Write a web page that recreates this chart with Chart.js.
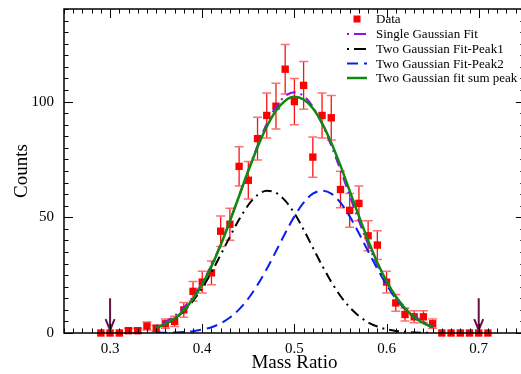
<!DOCTYPE html>
<html>
<head>
<meta charset="utf-8">
<script src="https://cdn.jsdelivr.net/npm/chart.js@4.4.1/dist/chart.umd.min.js"></script>
<style>
  html, body { margin: 0; padding: 0; background: #ffffff; overflow: hidden; }
  #wrap { width: 521px; height: 374px; overflow: hidden; }
</style>
</head>
<body>
<div id="wrap"><canvas id="massChart" width="530" height="374"></canvas></div>
<script>
// histogram bins (mass ratio) and measured counts
const massRatio = [0.29, 0.30, 0.31, 0.32, 0.33, 0.34, 0.35, 0.36, 0.37, 0.38, 0.39,
                   0.40, 0.41, 0.42, 0.43, 0.44, 0.45, 0.46, 0.47, 0.48, 0.49,
                   0.50, 0.51, 0.52, 0.53, 0.54, 0.55, 0.56, 0.57, 0.58, 0.59,
                   0.60, 0.61, 0.62, 0.63, 0.64, 0.65, 0.66, 0.67, 0.68, 0.69,
                   0.70, 0.71];
const counts = [0, 0, 0, 1, 1, 3, 2, 4, 5, 10, 18,
                22, 26, 44, 47, 72, 66, 84, 94, 98, 114,
                100, 107, 76, 94, 93, 62, 53, 56, 42, 38,
                22, 13, 8, 7, 7, 4, 0, 0, 0, 0,
                0, 0];
const countErrors = [0, 0, 0, 1, 1, 1.7, 1.4, 2, 2.2, 3.2, 4.2,
                     4.7, 5.1, 6.6, 6.9, 8.5, 8.1, 9.2, 9.7, 9.9, 10.7,
                     10, 10.3, 8.7, 9.7, 9.6, 7.9, 7.3, 7.5, 6.5, 6.2,
                     4.7, 3.6, 2.8, 2.6, 2.6, 2, 0, 0, 0, 0,
                     0, 0];

// fit curves
const fitX = [0.35, 0.36, 0.37, 0.38, 0.39, 0.40, 0.41, 0.42, 0.43, 0.44, 0.45,
              0.46, 0.47, 0.48, 0.49, 0.50, 0.51, 0.52, 0.53, 0.54, 0.55,
              0.56, 0.57, 0.58, 0.59, 0.60, 0.61, 0.62, 0.63, 0.64, 0.65];
const singleFit = [3.1, 4.9, 7.4, 11.0, 15.7, 21.8, 29.3, 38.3, 48.4, 59.3, 70.4,
                   81.0, 90.4, 97.7, 102.4, 104.0, 102.4, 97.7, 90.4, 81.0, 70.4,
                   59.3, 48.4, 38.3, 29.3, 21.8, 15.7, 11.0, 7.4, 4.9, 3.1];
const peak1Fit = [2.3, 3.8, 6.1, 9.4, 13.9, 19.5, 26.2, 33.8, 41.6, 49.0, 55.3,
                  59.6, 61.5, 60.6, 57.2, 51.7, 44.7, 36.9, 29.2, 22.1, 16.0,
                  11.1, 7.3, 4.6, 2.8, 1.6, 0.9, 0.5, 0.2, 0.1, 0.05];
const peak2Fit = [0.05, 0.1, 0.2, 0.4, 0.8, 1.5, 2.5, 4.2, 6.7, 10.2, 14.9,
                  20.8, 27.7, 35.3, 43.1, 50.4, 56.3, 60.2, 61.5, 60.2, 56.3,
                  50.4, 43.1, 35.3, 27.7, 20.8, 14.9, 10.2, 6.7, 4.2, 2.5];
const sumFit = [2.3, 3.9, 6.3, 9.8, 14.7, 21.0, 28.8, 38.0, 48.3, 59.2, 70.1,
                80.3, 89.1, 96.0, 100.4, 102.1, 100.9, 97.1, 90.7, 82.2, 72.3,
                61.4, 50.5, 40.0, 30.5, 22.4, 15.8, 10.7, 6.9, 4.3, 2.6];

const xTickLabels = [0.3, 0.4, 0.5, 0.6, 0.7];
const yTickLabels = [0, 50, 100];
const arrowX = [0.3, 0.7];

const SERIF = "'Liberation Serif', 'DejaVu Serif', serif";

function toPoints(xs, ys) {
    return xs.map((x, i) => ({ x: x, y: ys[i] }));
}

// error bars under the squares
const errorBarPlugin = {
    id: 'errorBars',
    beforeDatasetsDraw(chart) {
        const { ctx, scales: { x, y } } = chart;
        ctx.save();
        massRatio.forEach((m, i) => {
            const e = countErrors[i];
            if (!e) return;
            const px = x.getPixelForValue(m);
            const yTop = y.getPixelForValue(counts[i] + e);
            const yBot = y.getPixelForValue(counts[i] - e);
            ctx.strokeStyle = '#ff1010';
            ctx.lineWidth = 1.3;
            ctx.beginPath();
            ctx.moveTo(px, yTop);
            ctx.lineTo(px, yBot);
            ctx.stroke();
            ctx.strokeStyle = '#ff7070';
            ctx.lineWidth = 1.5;
            ctx.beginPath();
            ctx.moveTo(px - 4.5, yTop);
            ctx.lineTo(px + 4.5, yTop);
            ctx.moveTo(px - 4.5, yBot);
            ctx.lineTo(px + 4.5, yBot);
            ctx.stroke();
        });
        ctx.restore();
    }
};

// arrows marking the selection window
const arrowPlugin = {
    id: 'arrows',
    afterDatasetsDraw(chart) {
        const { ctx, scales: { x, y } } = chart;
        ctx.save();
        ctx.strokeStyle = '#6a0f45';
        ctx.lineWidth = 2;
        arrowX.forEach(a => {
            const px = x.getPixelForValue(a);
            const top = y.getPixelForValue(15);
            const tip = y.getPixelForValue(1.2);
            ctx.beginPath();
            ctx.moveTo(px, top);
            ctx.lineTo(px, tip);
            ctx.moveTo(px - 4.5, tip - 11);
            ctx.lineTo(px, tip);
            ctx.lineTo(px + 4.5, tip - 11);
            ctx.stroke();
        });
        ctx.restore();
    }
};

// frame with inward ticks on all four sides
const framePlugin = {
    id: 'frame',
    afterDraw(chart) {
        const { ctx, chartArea: a, scales: { x, y } } = chart;
        ctx.save();
        ctx.strokeStyle = '#000000';
        ctx.lineWidth = 1.5;
        ctx.strokeRect(a.left, a.top, a.right - a.left, a.bottom - a.top);
        ctx.lineWidth = 1;
        ctx.beginPath();
        for (let k = 25; k <= 75; k++) {
            const px = Math.round(x.getPixelForValue(k / 100)) + 0.5;
            const len = k % 10 === 0 ? 9 : 4.5;
            ctx.moveTo(px, a.bottom);
            ctx.lineTo(px, a.bottom - len);
            ctx.moveTo(px, a.top);
            ctx.lineTo(px, a.top + len);
        }
        for (let v = 0; v <= 140; v += 5) {
            const py = Math.round(y.getPixelForValue(v)) + 0.5;
            const len = v % 50 === 0 ? 9 : 4.5;
            ctx.moveTo(a.left, py);
            ctx.lineTo(a.left + len, py);
            ctx.moveTo(a.right, py);
            ctx.lineTo(a.right - len, py);
        }
        ctx.stroke();
        ctx.restore();
    }
};

// legend in the upper right corner
const legendPlugin = {
    id: 'cornerLegend',
    afterDraw(chart) {
        const { ctx } = chart;
        const rows = [19, 34, 49, 63.5, 78];
        ctx.save();
        ctx.font = '13px ' + SERIF;
        ctx.textBaseline = 'middle';
        ctx.fillStyle = '#000000';
        chart.data.datasets.forEach((ds, i) => {
            const yy = rows[i];
            if (ds.showLine) {
                ctx.strokeStyle = ds.borderColor;
                ctx.lineWidth = ds.borderWidth;
                ctx.setLineDash(ds.legendDash || []);
                ctx.beginPath();
                ctx.moveTo(347, yy);
                ctx.lineTo(367, yy);
                ctx.stroke();
                ctx.setLineDash([]);
            } else {
                ctx.fillStyle = '#ff0000';
                ctx.fillRect(353.5, yy - 3.5, 7, 7);
            }
            ctx.fillStyle = '#000000';
            ctx.fillText(ds.label, 376, yy + 1);
        });
        ctx.restore();
    }
};

const ctx = document.getElementById('massChart').getContext('2d');

new Chart(ctx, {
    type: 'scatter',
    data: {
        datasets: [{
            label: 'Data',
            data: toPoints(massRatio, counts),
            showLine: false,
            pointStyle: 'rect',
            pointRadius: 5.2,
            backgroundColor: '#ff0000',
            borderColor: '#ff0000',
            borderWidth: 0,
            clip: false,
            order: 5
        }, {
            label: 'Single Gaussian Fit',
            data: toPoints(fitX, singleFit),
            showLine: true,
            pointRadius: 0,
            borderColor: '#9010e0',
            borderWidth: 2,
            borderDash: [2, 5, 10, 5],
            legendDash: [2, 5, 12, 5],
            cubicInterpolationMode: 'monotone',
            order: 4
        }, {
            label: 'Two Gaussian Fit-Peak1',
            data: toPoints(fitX, peak1Fit),
            showLine: true,
            pointRadius: 0,
            borderColor: '#000000',
            borderWidth: 2,
            borderDash: [10, 5, 2, 5],
            legendDash: [2, 5, 12, 5],
            cubicInterpolationMode: 'monotone',
            order: 3
        }, {
            label: 'Two Gaussian Fit-Peak2',
            data: toPoints(fitX, peak2Fit),
            showLine: true,
            pointRadius: 0,
            borderColor: '#0a1ef0',
            borderWidth: 2,
            borderDash: [11, 6],
            legendDash: [11, 6],
            cubicInterpolationMode: 'monotone',
            order: 2
        }, {
            label: 'Two Gaussian fit sum peak',
            data: toPoints(fitX, sumFit),
            showLine: true,
            pointRadius: 0,
            borderColor: '#118811',
            borderWidth: 2.5,
            cubicInterpolationMode: 'monotone',
            order: 1
        }]
    },
    options: {
        responsive: false,
        animation: false,
        devicePixelRatio: 1,
        layout: {
            padding: { left: 0, top: 9, right: 1, bottom: 0 }
        },
        plugins: {
            legend: { display: false },
            tooltip: { enabled: false }
        },
        scales: {
            x: {
                type: 'linear',
                min: 0.25,
                max: 0.75,
                afterBuildTicks: s => { s.ticks = xTickLabels.map(v => ({ value: v })); },
                afterFit: s => { s.height = 41; s.paddingLeft = 0; s.paddingRight = 0; },
                grid: { display: false, drawTicks: false },
                border: { display: false },
                ticks: {
                    color: '#000000',
                    padding: 7,
                    maxRotation: 0,
                    font: { family: SERIF, size: 15 },
                    callback: v => v.toFixed(1)
                },
                title: {
                    display: true,
                    text: 'Mass Ratio',
                    color: '#000000',
                    font: { family: SERIF, size: 19 },
                    padding: { top: 0, bottom: 0 }
                }
            },
            y: {
                min: 0,
                max: 140,
                afterBuildTicks: s => { s.ticks = yTickLabels.map(v => ({ value: v })); },
                afterFit: s => { s.width = 64; s.paddingTop = 0; s.paddingBottom = 0; },
                grid: { display: false, drawTicks: false },
                border: { display: false },
                ticks: {
                    color: '#000000',
                    padding: 10,
                    font: { family: SERIF, size: 15 }
                },
                title: {
                    display: true,
                    text: 'Counts',
                    color: '#000000',
                    font: { family: SERIF, size: 19 },
                    padding: { top: 11, bottom: 0 }
                }
            }
        }
    },
    plugins: [errorBarPlugin, arrowPlugin, framePlugin, legendPlugin]
});
</script>
</body>
</html>
